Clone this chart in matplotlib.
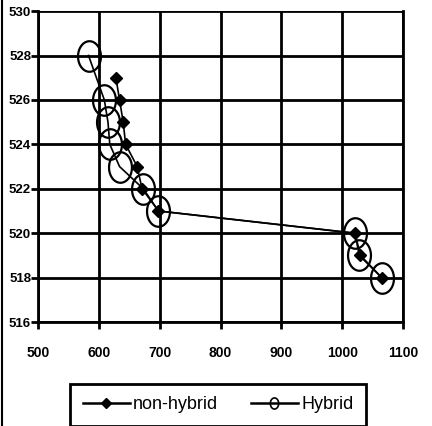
import matplotlib
matplotlib.use("Agg")
import matplotlib.pyplot as plt
from matplotlib.path import Path
from matplotlib.lines import Line2D
import numpy as np

# values
nonhybrid_x = [628, 634, 640, 644, 663, 671, 698, 1021, 1030, 1065]
nonhybrid_y = [527, 526, 525, 524, 523, 522, 521, 520, 519, 518]
hybrid_x = [583, 609, 615, 618, 634, 673, 698, 1021, 1028, 1065]
hybrid_y = [528, 526, 525, 524, 523, 522, 521, 520, 519, 518]
x_ticks = [500, 600, 700, 800, 900, 1000, 1100]
y_ticks = [516, 518, 520, 522, 524, 526, 528, 530]

plt.rcParams["font.family"] = ["Liberation Sans", "DejaVu Sans"]

# tall ellipse marker for the hybrid series
t = np.linspace(0, 2 * np.pi, 60)
ellipse = Path(np.column_stack([0.75 * np.cos(t), np.sin(t)]), closed=True)

fig = plt.figure(figsize=(4.32, 4.26), dpi=100)
ax = fig.add_axes([0.088, 0.244, 0.845, 0.730])

ax.plot(nonhybrid_x, nonhybrid_y, color="black", lw=1.2, marker="D",
        markersize=6, markerfacecolor="black", markeredgecolor="black",
        label="non-hybrid", zorder=3)
ax.plot(hybrid_x, hybrid_y, color="black", lw=1.2, marker=ellipse,
        markersize=22, markerfacecolor="none", markeredgecolor="black",
        markeredgewidth=1.6, label="Hybrid", zorder=4)

ax.set_xlim(500, 1100)
ax.set_ylim(516, 530)
ax.set_xticks(x_ticks)
ax.set_yticks(y_ticks)
ax.grid(True, color="black", lw=2)
ax.set_axisbelow(True)

for s in ["left", "bottom", "right"]:
    ax.spines[s].set_linewidth(2)
ax.spines["top"].set_visible(False)

ax.tick_params(axis="x", direction="out", length=5, width=2, pad=12,
               labelsize=10)
ax.tick_params(axis="y", direction="out", length=5, width=2, pad=0,
               labelsize=9.5)
for lab in ax.get_xticklabels() + ax.get_yticklabels():
    lab.set_fontweight("bold")

handles = [
    Line2D([], [], color="black", lw=1.8, marker="D", markersize=5,
           markerfacecolor="black"),
    Line2D([], [], color="black", lw=1.8, marker=ellipse, markersize=8,
           markerfacecolor="none", markeredgewidth=1.2),
]
leg = fig.legend(handles, ["non-hybrid", "Hybrid"], loc="center",
                 bbox_to_anchor=(0.505, 0.05), ncol=2, fontsize=13,
                 frameon=True, fancybox=False, edgecolor="black",
                 framealpha=1, handlelength=2.6, handletextpad=0.2,
                 columnspacing=1.8, borderpad=0.7)
leg.get_frame().set_linewidth(2)

# scanned page border on the left
fig.add_artist(Line2D([0.005, 0.005], [0, 1], color="black", lw=1.5))

fig.savefig("out.png", dpi=100)
